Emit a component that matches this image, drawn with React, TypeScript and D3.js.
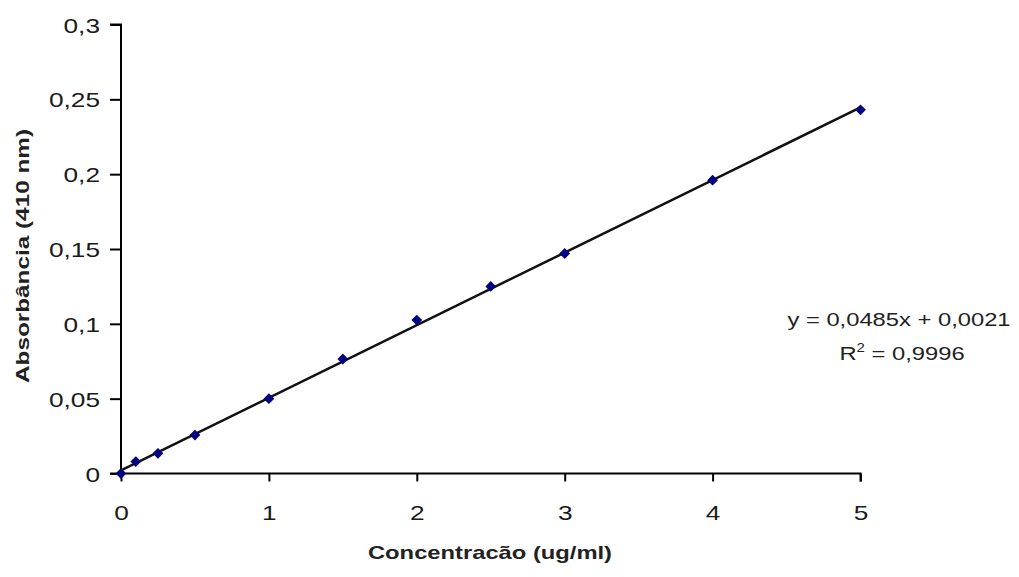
import React, { useRef, useEffect } from 'react';
import * as d3 from 'd3';

// Calibration points: concentration (ug/ml) vs absorbance (410 nm)
const concentrations = [0, 0.1, 0.25, 0.5, 1, 1.5, 2, 2.5, 3, 4, 5];
const absorbances = [0, 0.008, 0.0135, 0.0257, 0.05, 0.0765, 0.1025, 0.125, 0.147, 0.196, 0.243];

// Linear trend line (from the chart's equation)
const slope = 0.0485;
const intercept = 0.0021;
const equationText = 'y = 0,0485x + 0,0021';
const r2Value = '0,9996';

const xTicks = [0, 1, 2, 3, 4, 5];
const yTicks = [0, 0.05, 0.1, 0.15, 0.2, 0.25, 0.3];

const W = 1019;
const H = 577;

const fmt = (v: number) => String(v).replace('.', ',');

const App = () => {
    const ref = useRef<SVGSVGElement | null>(null);

    useEffect(() => {
        if (!ref.current) return;
        const svg = d3.select(ref.current);
        svg.selectAll('*').remove();

        const font = 'Liberation Sans, Arial, sans-serif';
        const stretch = 1.25; // the source text is rendered wide

        // widen tick text around its anchor point
        const widen = (sel: any, s: number) => {
            sel.each(function (this: SVGTextElement) {
                const t = d3.select(this);
                const tx = +(t.attr('x') || 0);
                const ty = +(t.attr('y') || 0);
                t.attr('x', 0).attr('y', 0)
                    .attr('transform', `translate(${tx},${ty}) scale(${s},1)`);
            });
        };

        // Plot area edges
        const left = 121, right = 860.5, top = 24.5, bottom = 473.5;

        const x = d3.scaleLinear().domain([0, 5]).range([left, right]);
        const y = d3.scaleLinear().domain([0, 0.3]).range([bottom, top]);

        // Y axis
        const yAxis = svg.append('g')
            .attr('transform', `translate(${left},0)`)
            .call(d3.axisLeft(y).tickValues(yTicks).tickSize(11).tickPadding(10).tickFormat(d => fmt(+d)));
        yAxis.select('.domain').attr('stroke', '#000').attr('stroke-width', 2)
            .attr('d', `M-11,${top}H0V${bottom}H-11`);
        yAxis.selectAll('.tick line').attr('stroke', '#000').attr('stroke-width', 2);
        const yt = yAxis.selectAll('.tick text')
            .attr('font-family', font).attr('font-size', 21).attr('fill', '#1a1a1a')
            .attr('dy', '0.36em');
        widen(yt, stretch);

        // X axis
        const xAxis = svg.append('g')
            .attr('transform', `translate(0,${bottom})`)
            .call(d3.axisBottom(x).tickValues(xTicks).tickSize(8).tickPadding(24).tickFormat(d => fmt(+d)));
        xAxis.select('.domain').attr('stroke', '#000').attr('stroke-width', 2)
            .attr('d', `M${left},0H${right}V8`);
        xAxis.selectAll('.tick line').attr('stroke', '#000').attr('stroke-width', 2);
        const xt = xAxis.selectAll('.tick text')
            .attr('font-family', font).attr('font-size', 21).attr('fill', '#1a1a1a');
        widen(xt, stretch);

        // Axis titles
        svg.append('text')
            .attr('transform', `translate(490,559) scale(${stretch},1)`)
            .attr('text-anchor', 'middle')
            .attr('font-family', font)
            .attr('font-size', 19)
            .attr('font-weight', 'bold')
            .attr('fill', '#222')
            .text('Concentracão (ug/ml)');

        svg.append('text')
            .attr('transform', `translate(29,256) rotate(-90) scale(1.28,1)`)
            .attr('text-anchor', 'middle')
            .attr('font-family', font)
            .attr('font-size', 19)
            .attr('font-weight', 'bold')
            .attr('fill', '#222')
            .text('Absorbância (410 nm)');

        // Trend line
        const line = d3.line<number>()
            .x(d => x(d))
            .y(d => y(slope * d + intercept));
        svg.append('path')
            .datum([0, 5])
            .attr('fill', 'none')
            .attr('stroke', '#111')
            .attr('stroke-width', 2.5)
            .attr('d', line);

        // Data points (diamonds = rotated squares)
        const marker = d3.symbol().type(d3.symbolSquare).size(58);
        svg.selectAll('.pt')
            .data(concentrations)
            .join('path')
            .attr('class', 'pt')
            .attr('transform', (d, i) => `translate(${x(d)},${y(absorbances[i])}) rotate(45)`)
            .attr('d', marker)
            .attr('fill', '#000080');

        // Equation and R²
        const eq = svg.append('g')
            .attr('font-family', font)
            .attr('font-size', 19)
            .attr('fill', '#222')
            .attr('text-anchor', 'middle');
        eq.append('text')
            .attr('transform', `translate(899,326) scale(${stretch},1)`)
            .text(equationText);
        const r2 = eq.append('text')
            .attr('transform', `translate(902,360) scale(${stretch},1)`);
        r2.append('tspan').text('R');
        r2.append('tspan').attr('font-size', 12).attr('dy', -8).text('2');
        r2.append('tspan').attr('dy', 8).text(` = ${r2Value}`);
    }, []);

    return (
        <svg ref={ref} width={W} height={H}
            style={{ position: 'absolute', left: 0, top: 0, background: '#fff' }} />
    );
};

export default App;
